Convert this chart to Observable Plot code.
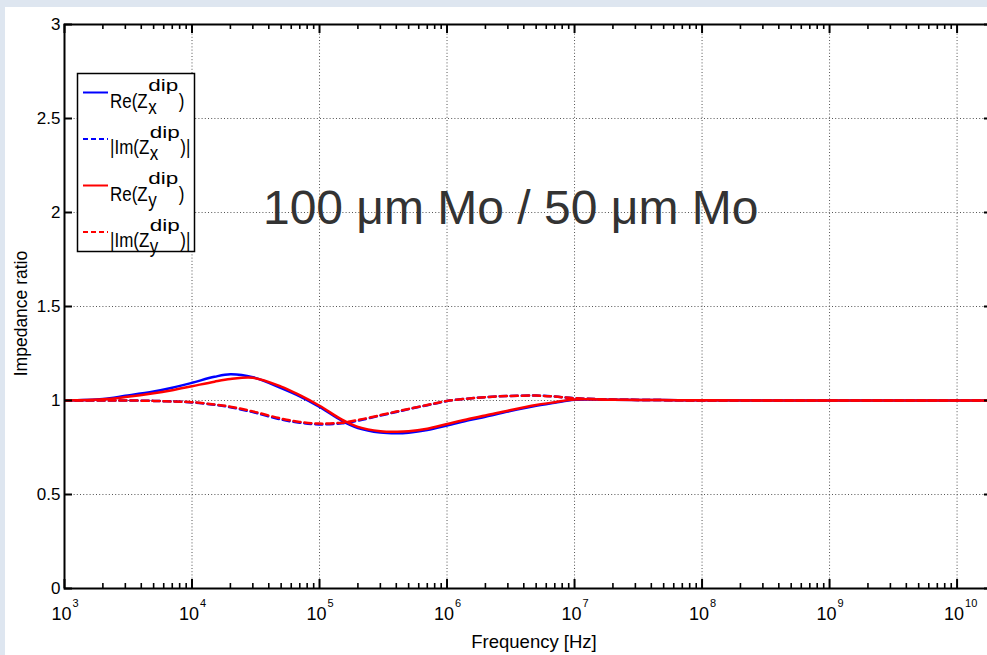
<!DOCTYPE html>
<html><head><meta charset="utf-8">
<script src="https://cdn.jsdelivr.net/npm/d3@7"></script>
<script src="https://cdn.jsdelivr.net/npm/@observablehq/plot@0.6"></script>
<style>
html,body{margin:0;padding:0;width:987px;height:655px;overflow:hidden;background:#dee6f0;}
#panel{position:absolute;left:5px;top:7px;right:0;bottom:0;background:#fff;}
#chart{position:absolute;left:0;top:0;}
</style></head><body><div id="panel"></div><div id="chart"></div>
<script>
// ---- data ----
const freq = [1e3, 2e3, 3e3, 5e3, 7e3, 1e4, 1.5e4, 2e4, 3e4, 5e4, 7e4, 1e5, 1.5e5, 2e5, 3e5, 4e5, 5e5, 7e5, 1e6, 1.5e6, 2e6, 3e6, 5e6, 7e6, 1e7, 2e7, 5e7, 1e8, 1e9, 1e10, 2e10];
const reZx = [1.000, 1.008, 1.025, 1.048, 1.068, 1.094, 1.126, 1.140, 1.124, 1.066, 1.022, 0.966, 0.892, 0.854, 0.830, 0.826, 0.829, 0.843, 0.867, 0.896, 0.914, 0.941, 0.972, 0.988, 1.004, 1.004, 1.002, 1.001, 1.000, 1.000, 1.000];
const imZx = [1.000, 1.000, 1.000, 0.998, 0.995, 0.990, 0.977, 0.964, 0.938, 0.899, 0.882, 0.873, 0.879, 0.893, 0.920, 0.939, 0.954, 0.975, 0.997, 1.011, 1.018, 1.024, 1.026, 1.021, 1.012, 1.005, 1.002, 1.000, 1.000, 1.000, 1.000];
const reZy = [1.000, 1.006, 1.018, 1.038, 1.055, 1.076, 1.100, 1.114, 1.121, 1.074, 1.028, 0.972, 0.898, 0.860, 0.837, 0.834, 0.836, 0.850, 0.875, 0.903, 0.920, 0.946, 0.976, 0.991, 1.005, 1.004, 1.002, 1.001, 1.000, 1.000, 1.000];
const imZy = [1.000, 1.000, 1.000, 0.998, 0.995, 0.991, 0.979, 0.967, 0.942, 0.904, 0.886, 0.877, 0.882, 0.896, 0.922, 0.941, 0.955, 0.976, 0.998, 1.011, 1.018, 1.024, 1.026, 1.021, 1.012, 1.005, 1.002, 1.000, 1.000, 1.000, 1.000];

const tickExponents = [3, 4, 5, 6, 7, 8, 9, 10];
const gridFreq = [1e4, 1e5, 1e6, 1e7, 1e8, 1e9, 1e10];
const yTicks = [0, 0.5, 1, 1.5, 2, 2.5, 3];
const yGrid = [0.5, 1, 1.5, 2, 2.5];
const xLabel = "Frequency [Hz]";
const yLabel = "Impedance ratio";
const titleText = "100 \u03bcm Mo / 50 \u03bcm Mo";
const titleFreq = 3.6e4;
const titleVal = 1.94;

const legendRows = [
  {main: "Re(Z", sub: "x", sup: "dip", tail: ")", color: "#0000ff", dash: null},
  {main: "|Im(Z", sub: "x", sup: "dip", tail: ")|", color: "#0000ff", dash: "5,3"},
  {main: "Re(Z", sub: "y", sup: "dip", tail: ")", color: "#ff0000", dash: null},
  {main: "|Im(Z", sub: "y", sup: "dip", tail: ")|", color: "#ff0000", dash: "5,3"}
];

// ---- build ----
const xMax = 10 ** 10.27;
const majorFreq = tickExponents.map(e => 10 ** e);
const minorFreq = [];
for (const e of tickExponents) for (let m = 2; m <= 9; m++) { const f = m * 10 ** e; if (f < xMax) minorFreq.push(f); }

const mk = (vals) => freq.map((f, i) => ({f, v: vals[i]}));
const W = 1000, H = 655;
const L = 64, R = 991, T = 24, B = 588;
const font = "'Liberation Sans', Arial, Helvetica, sans-serif";

const lineOpts = {x: "f", y: "v", curve: "catmull-rom", strokeWidth: 2.5, strokeLinejoin: "round", clip: true};

const plot = Plot.plot({
  width: W, height: H,
  marginLeft: L, marginRight: W - R, marginTop: T, marginBottom: H - B,
  x: {type: "log", domain: [1e3, xMax], axis: null},
  y: {domain: [0, 3], axis: null},
  style: {background: "transparent", maxWidth: "none", fontFamily: font, overflow: "visible", color: "black"},
  marks: [
    Plot.ruleX(gridFreq, {x: d => d, stroke: "#555", strokeWidth: 1, strokeDasharray: "1,2.2"}),
    Plot.ruleY(yGrid, {y: d => d, stroke: "#555", strokeWidth: 1, strokeDasharray: "1,2.2"}),
    Plot.line(mk(reZx), {...lineOpts, stroke: "#0000ff"}),
    Plot.line(mk(imZx), {...lineOpts, stroke: "#0000ff", strokeDasharray: "7,4"}),
    Plot.line(mk(reZy), {...lineOpts, stroke: "#ff0000"}),
    Plot.line(mk(imZy), {...lineOpts, stroke: "#ff0000", strokeDasharray: "7,4"}),
    Plot.text([titleText], {x: () => titleFreq, y: () => titleVal, text: d => d, textAnchor: "start", lineAnchor: "bottom", fontSize: 48, fill: "#333"}),
    // x ticks bottom & top
    Plot.ruleX(minorFreq, {x: d => d, y1: () => 0, y2: () => 0, insetTop: -5, stroke: "black", strokeWidth: 1.6}),
    Plot.ruleX(majorFreq, {x: d => d, y1: () => 0, y2: () => 0, insetTop: -9, stroke: "black", strokeWidth: 2}),
    Plot.ruleX(minorFreq, {x: d => d, y1: () => 3, y2: () => 3, insetBottom: -5, stroke: "black", strokeWidth: 1.6}),
    Plot.ruleX(majorFreq, {x: d => d, y1: () => 3, y2: () => 3, insetBottom: -9, stroke: "black", strokeWidth: 2}),
    // y ticks left & right
    Plot.ruleY(yTicks, {y: d => d, x1: () => 1e3, x2: () => 1e3, insetRight: -8, stroke: "black", strokeWidth: 2}),
    Plot.ruleY(yTicks, {y: d => d, x1: () => xMax, x2: () => xMax, insetLeft: -7, stroke: "black", strokeWidth: 2}),
    Plot.frame({stroke: "black", strokeWidth: 2}),
    // tick labels
    Plot.text(yTicks, {y: d => d, text: d => String(d), frameAnchor: "left", dx: -4, textAnchor: "end", lineAnchor: "middle", fontSize: 17, fill: "black"}),
    Plot.text(tickExponents, {x: d => 10 ** d, text: () => "10", frameAnchor: "bottom", dx: 7, dy: 31, textAnchor: "end", lineAnchor: "bottom", fontSize: 18, fill: "black"}),
    Plot.text(tickExponents, {x: d => 10 ** d, text: d => String(d), frameAnchor: "bottom", dx: 8, dy: 18, textAnchor: "start", lineAnchor: "bottom", fontSize: 11, fill: "black"}),
    // axis labels
    Plot.text([xLabel], {text: d => d, frameAnchor: "bottom", dx: 6, dy: 59, textAnchor: "middle", lineAnchor: "bottom", fontSize: 18.5, fill: "black"}),
    Plot.text([yLabel], {text: d => d, frameAnchor: "left", dx: -38, dy: 7, rotate: -90, textAnchor: "middle", lineAnchor: "bottom", fontSize: 17.5, fill: "black"})
  ]
});
document.getElementById("chart").appendChild(plot);

// ---- legend ----
const svg = d3.select(plot);
const lg = svg.append("g").attr("font-family", font).attr("fill", "black").attr("text-anchor", "start");
lg.append("rect").attr("x", 77.5).attr("y", 73.5).attr("width", 117).attr("height", 178)
  .attr("fill", "white").attr("stroke", "black").attr("stroke-width", 1.5);
function stretched(x, y, size, sy, txt) {
  return lg.append("text").attr("transform", `translate(${x},${y}) scale(1,${sy})`)
    .style("font-size", size + "px").text(txt);
}
legendRows.forEach((r, i) => {
  const ly = 92.5 + i * 46.5;
  lg.append("line").attr("x1", 83).attr("x2", 108).attr("y1", ly).attr("y2", ly)
    .attr("stroke", r.color).attr("stroke-width", 2).attr("stroke-dasharray", r.dash);
  const m = stretched(110, ly + 15, 17, 1.15, r.main);
  const w = m.node().getComputedTextLength();
  const x0 = 110 + w;
  stretched(x0 + 0.5, ly - 1.5, 15, 1.1, r.sup).attr("textLength", 30).attr("lengthAdjust", "spacingAndGlyphs");
  stretched(x0 + 0.5, ly + 21, 17, 1.2, r.sub);
  stretched(x0 + 31, ly + 15, 17, 1.15, r.tail);
});
</script>
</body></html>
